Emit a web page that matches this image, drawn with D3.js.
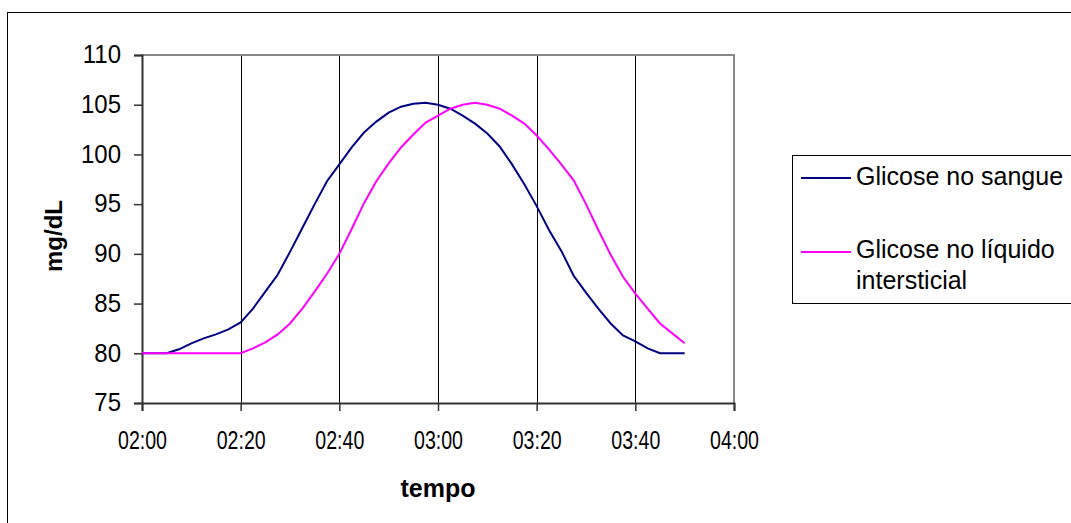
<!DOCTYPE html>
<html>
<head>
<meta charset="utf-8">
<script src="https://cdn.jsdelivr.net/npm/d3@7"></script>
<style>
  body { margin: 0; background: #fff; }
  text { font-family: "Liberation Sans", Arial, sans-serif; fill: #000; }
</style>
</head>
<body>
<div id="canvas"></div>
<script>
// Sample times (every 2.5 minutes).
const times = [
    "02:00:00", "02:02:30", "02:05:00", "02:07:30", "02:10:00", "02:12:30", "02:15:00", "02:17:30",
    "02:20:00", "02:22:30", "02:25:00", "02:27:30", "02:30:00", "02:32:30", "02:35:00", "02:37:30",
    "02:40:00", "02:42:30", "02:45:00", "02:47:30", "02:50:00", "02:52:30", "02:55:00", "02:57:30",
    "03:00:00", "03:02:30", "03:05:00", "03:07:30", "03:10:00", "03:12:30", "03:15:00", "03:17:30",
    "03:20:00", "03:22:30", "03:25:00", "03:27:30", "03:30:00", "03:32:30", "03:35:00", "03:37:30",
    "03:40:00", "03:42:30", "03:45:00", "03:47:30", "03:50:00"
];
// Glucose in blood (mg/dL).
const sangue = [
    80, 80, 80, 80.4, 81.0, 81.5, 81.9, 82.4,
    83.1, 84.5, 86.2, 87.9, 90.2, 92.6, 95.0, 97.3,
    99.0, 100.7, 102.2, 103.3, 104.2, 104.8, 105.1, 105.2,
    105.0, 104.6, 103.9, 103.1, 102.1, 100.8, 99.0, 97.0,
    94.8, 92.4, 90.3, 87.8, 86.1, 84.5, 83.0, 81.8,
    81.2, 80.5, 80, 80, 80
];
// Glucose in interstitial fluid (mg/dL).
const intersticial = [
    80, 80, 80, 80, 80, 80, 80, 80,
    80, 80.5, 81.1, 81.9, 83.0, 84.5, 86.2, 88.0,
    90.0, 92.5, 95.1, 97.3, 99.1, 100.7, 102.0, 103.2,
    103.9, 104.6, 105.0, 105.2, 105.0, 104.6, 103.9, 103.1,
    101.9, 100.5, 99.0, 97.4, 95.0, 92.4, 89.9, 87.7,
    86.0, 84.5, 83.0, 82.0, 81.0
];
// Axis ranges and tick labels.
const xDomain = ["02:00:00", "04:00:00"];
const yTicks = [75, 80, 85, 90, 95, 100, 105, 110];
const seriesColors = ["#000080", "#ff00ff"];

const W = 1071, H = 523;
const plot = { left: 142, right: 734, top: 55, bottom: 403 };

const parse = d3.timeParse("%H:%M:%S");

const svg = d3.select("#canvas")
    .append("svg")
    .attr("width", W)
    .attr("height", H);

// Outer chart frame (runs off the right and bottom edges).
svg.append("rect")
    .attr("x", 7.5).attr("y", 12.5)
    .attr("width", W + 20).attr("height", H + 20)
    .attr("fill", "none").attr("stroke", "#000").attr("stroke-width", 1);

const x = d3.scaleTime()
    .domain(xDomain.map(parse))
    .range([plot.left, plot.right]);

const y = d3.scaleLinear()
    .domain([d3.min(yTicks), d3.max(yTicks)])
    .range([plot.bottom, plot.top]);

const xTicks = x.ticks(d3.timeMinute.every(20));

// Vertical gridlines.
svg.append("g")
    .selectAll("line")
    .data(xTicks.slice(1, -1))
    .join("line")
    .attr("x1", d => Math.round(x(d)) + 0.5)
    .attr("x2", d => Math.round(x(d)) + 0.5)
    .attr("y1", plot.top).attr("y2", plot.bottom)
    .attr("stroke", "#000").attr("stroke-width", 1);

// Top and right plot borders.
svg.append("path")
    .attr("d", `M${plot.left},${plot.top}H${plot.right}V${plot.bottom}`)
    .attr("fill", "none").attr("stroke", "#888").attr("stroke-width", 2);

// Y axis.
const yAxis = svg.append("g")
    .attr("transform", `translate(${plot.left},0)`)
    .call(d3.axisLeft(y).tickValues(yTicks).tickSize(8).tickPadding(13));
yAxis.select(".domain").attr("stroke", "#333").attr("stroke-width", 2);
yAxis.selectAll(".tick line").attr("stroke", "#333").attr("stroke-width", 1.5);
yAxis.selectAll(".tick text")
    .attr("font-size", 24)
    .attr("font-family", "Liberation Sans, Arial, sans-serif")
    .attr("fill", "#000")
    .attr("transform", "scale(1,1.08)")
    .attr("dy", "0.3em");

// X axis.
const xAxis = svg.append("g")
    .attr("transform", `translate(0,${plot.bottom})`)
    .call(d3.axisBottom(x).tickValues(xTicks).tickFormat(d3.timeFormat("%H:%M")).tickSize(8).tickPadding(20));
xAxis.select(".domain").attr("stroke", "#333").attr("stroke-width", 2);
xAxis.selectAll(".tick line").attr("stroke", "#333").attr("stroke-width", 1.5);
xAxis.selectAll(".tick text")
    .attr("font-size", 25)
    .attr("font-family", "Liberation Sans, Arial, sans-serif")
    .attr("fill", "#000")
    .attr("textLength", 49)
    .attr("lengthAdjust", "spacingAndGlyphs");

// Axis titles.
svg.append("text")
    .attr("x", (plot.left + plot.right) / 2)
    .attr("y", 497)
    .attr("text-anchor", "middle")
    .attr("font-size", 25)
    .attr("font-weight", "bold")
    .text("tempo");

svg.append("text")
    .attr("transform", `translate(62,${(plot.top + plot.bottom) / 2 + 7}) rotate(-90)`)
    .attr("text-anchor", "middle")
    .attr("font-size", 24)
    .attr("font-weight", "bold")
    .text("mg/dL");

// Lines.
const line = d3.line()
    .x((d, i) => x(parse(times[i])))
    .y(d => y(d));

[sangue, intersticial].forEach((series, k) => {
    svg.append("path")
        .datum(series)
        .attr("d", line)
        .attr("fill", "none")
        .attr("stroke", seriesColors[k])
        .attr("stroke-width", 2);
});

// Legend.
const legend = svg.append("g");
legend.append("rect")
    .attr("x", 792.5).attr("y", 155.5)
    .attr("width", 300).attr("height", 148)
    .attr("fill", "#fff").attr("stroke", "#000").attr("stroke-width", 1);

const legendRows = [
    { lineY: 178, lines: ["Glicose no sangue"], baseline: 185 },
    { lineY: 252, lines: ["Glicose no líquido", "intersticial"], baseline: 258 }
];

legendRows.forEach((row, k) => {
    legend.append("line")
        .attr("x1", 801).attr("x2", 851)
        .attr("y1", row.lineY).attr("y2", row.lineY)
        .attr("stroke", seriesColors[k]).attr("stroke-width", 2);
    row.lines.forEach((t, j) => {
        legend.append("text")
            .attr("x", 856)
            .attr("y", row.baseline + j * 31)
            .attr("font-size", 25)
            .text(t);
    });
});
</script>
</body>
</html>
